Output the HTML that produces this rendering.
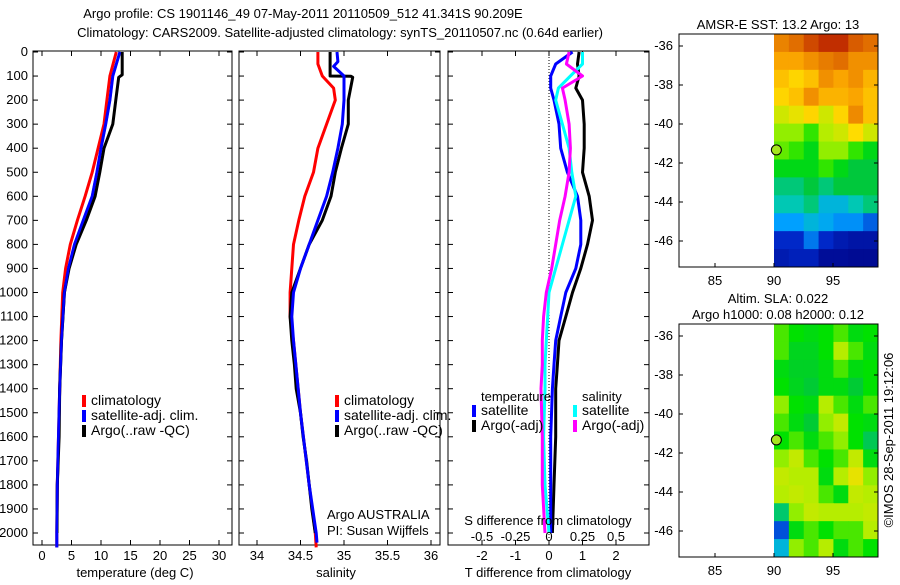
<!DOCTYPE html>
<html><head><meta charset="utf-8"><style>
body{margin:0;background:#fff;width:900px;height:580px;overflow:hidden}
svg text{font-family:"Liberation Sans",sans-serif;font-size:13px;fill:#000}
svg .lg text{font-size:14px}
</style></head><body>
<svg id="c" width="900" height="580" xmlns="http://www.w3.org/2000/svg"></svg>
<script>
// ---- data ----
const depthsT = [0,100,200,300,400,500,600,700,800,900,1000,1200,1400,1600,1800,2000,2060];
const tempClim = [12.6,11.5,11,10.5,9.5,8.5,7.3,6,4.8,4,3.5,3.2,3,2.8,2.6,2.5,2.5];
const tempSat  = [13.2,12,11.5,10.8,10,9.3,8.5,7,5.5,4.5,3.8,3.3,3,2.8,2.6,2.5,2.5];
const tempArgoDepth = [0,95,105,200,300,400,500,600,700,800,900,1000,1200,1400,1600,1800,2000];
const tempArgo = [13.6,13.6,13.0,12.5,12,10.5,9.8,9,7.5,5.8,4.6,3.8,3.3,3.0,2.9,2.6,2.55];
const salDepthClim = [0,50,100,150,200,300,400,500,600,700,800,900,1000,1100,1200,1500,1800,2000,2060];
const salClim = [34.7,34.7,34.75,34.88,34.9,34.8,34.7,34.65,34.55,34.48,34.42,34.4,34.38,34.38,34.42,34.5,34.6,34.67,34.68];
const salDepthSat = [0,40,60,100,200,300,400,500,600,700,800,900,1000,1100,1200,1500,1800,2000,2040];
const salSat = [34.92,34.93,34.88,35.0,35.0,34.98,34.93,34.87,34.8,34.7,34.6,34.5,34.42,34.4,34.42,34.5,34.6,34.68,34.69];
const salDepthArgo = [0,100,101,105,200,300,400,500,600,700,800,900,1000,1100,1200,1300,1400,1500,1600,1700,1800,1900,2000];
const salArgo = [34.84,34.84,35.08,35.1,35.05,35.05,34.97,34.9,34.85,34.75,34.6,34.5,34.4,34.38,34.4,34.43,34.45,34.5,34.53,34.57,34.6,34.63,34.67];
const diffDepth = [0,50,100,150,200,300,400,500,600,700,800,900,1000,1100,1200,1300,1400,1600,1800,2000];
const dTArgo = [0.9,0.85,0.9,0.8,1.0,1.05,1.05,1.0,1.2,1.3,1.15,0.95,0.7,0.5,0.3,0.25,0.2,0.2,0.15,0.1];
const dTSat  = [0.7,0.2,0.05,0.05,0.15,0.3,0.35,0.55,0.85,0.95,0.95,0.8,0.5,0.35,0.2,0.15,0.1,0.05,0.05,0.05];
const dSSat  = [0.25,0.25,0.16,0.07,0.05,0.1,0.15,0.17,0.2,0.15,0.1,0.05,0.0,-0.01,-0.02,-0.03,-0.03,-0.04,-0.03,0.0];
const dSArgo = [0.15,0.13,0.25,0.1,0.12,0.15,0.16,0.15,0.12,0.08,0.05,0.02,-0.02,-0.04,-0.05,-0.05,-0.06,-0.05,-0.05,-0.03];
const depthTicks = [0,100,200,300,400,500,600,700,800,900,1000,1100,1200,1300,1400,1500,1600,1700,1800,1900,2000];
const tempTicks = [0,5,10,15,20,25,30];
const salTicks = [34,34.5,35,35.5,36];
const tdTicks = [-2,-1,0,1,2];
const sdTicks = [-0.5,-0.25,0,0.25,0.5];
const lonTicks = [85,90,95];
const latTicks = [-36,-38,-40,-42,-44,-46];
const sstGrid = [
[.85,.88,.92,.95,.95,.9,.88],[.8,.8,.83,.86,.88,.83,.83],[.76,.73,.76,.83,.8,.83,.78],
[.73,.76,.83,.78,.78,.8,.76],[.68,.7,.73,.68,.73,.84,.76],[.64,.64,.6,.66,.68,.72,.68],
[.62,.6,.55,.64,.64,.6,.55],[.55,.55,.55,.6,.55,.5,.5],[.45,.45,.5,.45,.5,.5,.5],
[.4,.4,.45,.35,.35,.4,.45],[.3,.3,.35,.32,.28,.28,.22],[.15,.15,.25,.15,.1,.08,.08],[.1,.12,.12,.05,.05,.04,.04]];
const slaGrid = [
[.61,.58,.56,.58,.61,.56,.58],[.61,.54,.54,.58,.66,.61,.56],[.56,.53,.53,.56,.61,.56,.58],
[.58,.54,.51,.56,.56,.51,.58],[.64,.58,.56,.66,.61,.56,.61],[.61,.56,.51,.64,.67,.58,.56],
[.58,.61,.56,.61,.64,.58,.48],[.64,.67,.61,.58,.61,.67,.56],[.67,.66,.66,.56,.66,.7,.64],
[.66,.67,.66,.61,.56,.67,.66],[.46,.64,.67,.66,.66,.66,.67],[.2,.56,.61,.58,.61,.61,.66],[.35,.64,.61,.66,.56,.61,.58]];
const argoLon = 90.2, argoLat = -41.33;
// ---- helpers ----
const S = document.getElementById('c'), NS='http://www.w3.org/2000/svg';
function el(t,a,p){const e=document.createElementNS(NS,t);for(const k in a)e.setAttribute(k,a[k]);(p||S).appendChild(e);return e;}
function txt(x,y,s,anchor,extra){const e=el('text',Object.assign({x:x,y:y,'text-anchor':anchor||'start'},extra||{}));e.textContent=s;return e;}
const yD = d => 52 + d*0.2405;
const P1={l:33,r:232,x:v=>42+v*5.9};
const P2={l:239,r:440,x:v=>257+(v-34)*87};
const P3={l:448,r:649,x:v=>549+v*33.5,xs:v=>549+v*134};
const yTop=51,yBot=545;
function frame(P,name){
  const g=el('g',{});
  el('rect',{x:P.l,y:yTop,width:P.r-P.l,height:yBot-yTop,fill:'none',stroke:'#000','stroke-width':1},g);
  depthTicks.forEach(d=>{const y=yD(d);el('line',{x1:P.l,x2:P.l+5,y1:y,y2:y,stroke:'#000'},g);el('line',{x1:P.r,x2:P.r-5,y1:y,y2:y,stroke:'#000'},g);});
  return g;
}
function line(xs,ds,fx,col,w,name){
  const pts=xs.map((v,i)=>fx(v).toFixed(1)+','+yD(ds[i]).toFixed(1)).join(' ');
  const e=el('polyline',{points:pts,fill:'none',stroke:col,'stroke-width':w||3,'stroke-linejoin':'round'});
  
}
function legend(x,y,items,name){
  const g=el('g',{class:'lg'});
  items.forEach((it,i)=>{el('rect',{x:x,y:y+i*15-10,width:4,height:12,fill:it[0]},g);const t=el('text',{x:x+9,y:y+i*15},g);t.textContent=it[1];});
}
// titles
let t=txt(303,18,'Argo profile: CS 1901146_49 07-May-2011 20110509_512 41.341S 90.209E','middle',{'font-size':'15.5px'});

t=txt(340,37,'Climatology: CARS2009. Satellite-adjusted climatology: synTS_20110507.nc (0.64d earlier)','middle',{'font-size':'15px'});

// panel 1
frame(P1,'temperature-panel');
depthTicks.forEach(d=>{const e=txt(28,yD(d)+4,String(d),'end');});
tempTicks.forEach(v=>{const x=P1.x(v);el('line',{x1:x,x2:x,y1:yTop,y2:yTop+5,stroke:'#000'});el('line',{x1:x,x2:x,y1:yBot,y2:yBot-5,stroke:'#000'});const e=txt(x,560,String(v),'middle');});
t=txt(135,577,'temperature (deg C)','middle');
line(tempClim,depthsT,P1.x,'#f00',3,'temperature-climatology-line');
line(tempSat,depthsT,P1.x,'#00f',3,'temperature-satellite-line');
line(tempArgo,tempArgoDepth,P1.x,'#000',3,'temperature-argo-line');
line(tempSat,depthsT,P1.x,'#00f',2.5,'temperature-satellite-line-top');
legend(82,405,[['#f00','climatology'],['#00f','satellite-adj. clim.'],['#000','Argo(..raw -QC)']],'temperature-legend');
// panel 2
frame(P2,'salinity-panel');
salTicks.forEach(v=>{const x=P2.x(v);el('line',{x1:x,x2:x,y1:yTop,y2:yTop+5,stroke:'#000'});el('line',{x1:x,x2:x,y1:yBot,y2:yBot-5,stroke:'#000'});const e=txt(x,560,String(v),'middle');});
t=txt(336,577,'salinity','middle');
line(salClim,salDepthClim,P2.x,'#f00',3,'salinity-climatology-line');
line(salArgo,salDepthArgo,P2.x,'#000',3,'salinity-argo-line');
line(salSat,salDepthSat,P2.x,'#00f',3,'salinity-satellite-line');
legend(335,405,[['#f00','climatology'],['#00f','satellite-adj. clim.'],['#000','Argo(..raw -QC)']],'salinity-legend');
t=txt(327,519,'Argo AUSTRALIA');
t=txt(327,535,'PI: Susan Wijffels');
// panel 3
frame(P3,'difference-panel');
el('line',{x1:549,x2:549,y1:yTop,y2:yBot,stroke:'#000','stroke-dasharray':'1,2'});
tdTicks.forEach(v=>{const x=P3.x(v);el('line',{x1:x,x2:x,y1:yTop,y2:yTop+5,stroke:'#000'});el('line',{x1:x,x2:x,y1:yBot,y2:yBot-5,stroke:'#000'});const e=txt(x,560,String(v),'middle');});
t=txt(548,577,'T difference from climatology','middle');
line(dTArgo,diffDepth,P3.x,'#000',3,'t-diff-argo-line');
line(dTSat,diffDepth,P3.x,'#00f',3,'t-diff-satellite-line');
line(dSSat,diffDepth,P3.xs,'#0ff',3,'s-diff-satellite-line');
line(dSArgo,diffDepth,P3.xs,'#f0f',3,'s-diff-argo-line');
legend(472,415,[['#00f','satellite'],['#000','Argo(-adj)']],'t-diff-legend');
legend(573,415,[['#0ff','satellite'],['#f0f','Argo(-adj)']],'s-diff-legend');
t=txt(481,401,'temperature',null,{'font-size':'14px'});
t=txt(582,401,'salinity',null,{'font-size':'14px'});
t=txt(548,525,'S difference from climatology','middle');
sdTicks.forEach(v=>{const e=txt(P3.xs(v),541,String(v),'middle');});
// maps
const cmapStops=[[0,0,0,128],[0.15,0,40,200],[0.3,0,160,255],[0.4,0,200,180],[0.5,0,200,60],[0.58,0,225,0],[0.65,170,240,0],[0.72,255,220,0],[0.8,250,165,0],[0.88,225,110,0],[1,170,0,0]];
function cmap(v){v=Math.max(0,Math.min(1,v));
  for(let i=1;i<cmapStops.length;i++){const a=cmapStops[i-1],b=cmapStops[i];if(v<=b[0]){const f=(v-a[0])/(b[0]-a[0]);
    return 'rgb('+[1,2,3].map(k=>Math.round(a[k]+(b[k]-a[k])*f)).join(',')+')';}}
  return 'rgb(170,0,0)';}
function map(y0,y1,grid,name,titles){
  const L=679,R=878,lonX=v=>774+(v-90)*11.8,latY=v=>y0+12+(-36-v)*19.5*(y1-y0)/233;
  const g=el('g',{});
  const rows=grid.length,cols=grid[0].length,cw=(R-774)/cols,ch=(y1-y0)/rows;
  grid.forEach((row,i)=>row.forEach((v,j)=>{const c=el('rect',{x:774+j*cw,y:y0+i*ch,width:cw+0.5,height:ch+0.5,fill:cmap(v)},g);}));
  el('rect',{x:L,y:y0,width:R-L,height:y1-y0,fill:'none',stroke:'#000'},g);
  lonTicks.forEach(v=>{const x=lonX(v);el('line',{x1:x,x2:x,y1:y1,y2:y1-4,stroke:'#000'},g);const e=txt(x,y1+18,String(v),'middle');});
  latTicks.forEach(v=>{const y=latY(v);el('line',{x1:L,x2:L+4,y1:y,y2:y,stroke:'#000'},g);el('line',{x1:R,x2:R-4,y1:y,y2:y,stroke:'#000'},g);const e=txt(673,y+4,String(v),'end');});
  const m=el('circle',{cx:lonX(argoLon),cy:latY(argoLat),r:5,fill:'#a6e61e',stroke:'#000'},g);
  
  titles.forEach((s,i)=>{const e=txt(778,y0-(titles.length-i)*16+11,s,'middle');});
}
map(34,267,sstGrid,'sst-map',['AMSR-E SST: 13.2 Argo: 13']);
map(324,557,slaGrid,'sla-map',['Altim. SLA: 0.022','Argo h1000: 0.08 h2000: 0.12']);
t=txt(893,440,'\u00a9IMOS 28-Sep-2011 19:12:06','middle',{transform:'rotate(-90 893 440)'});

</script>
</body></html>
